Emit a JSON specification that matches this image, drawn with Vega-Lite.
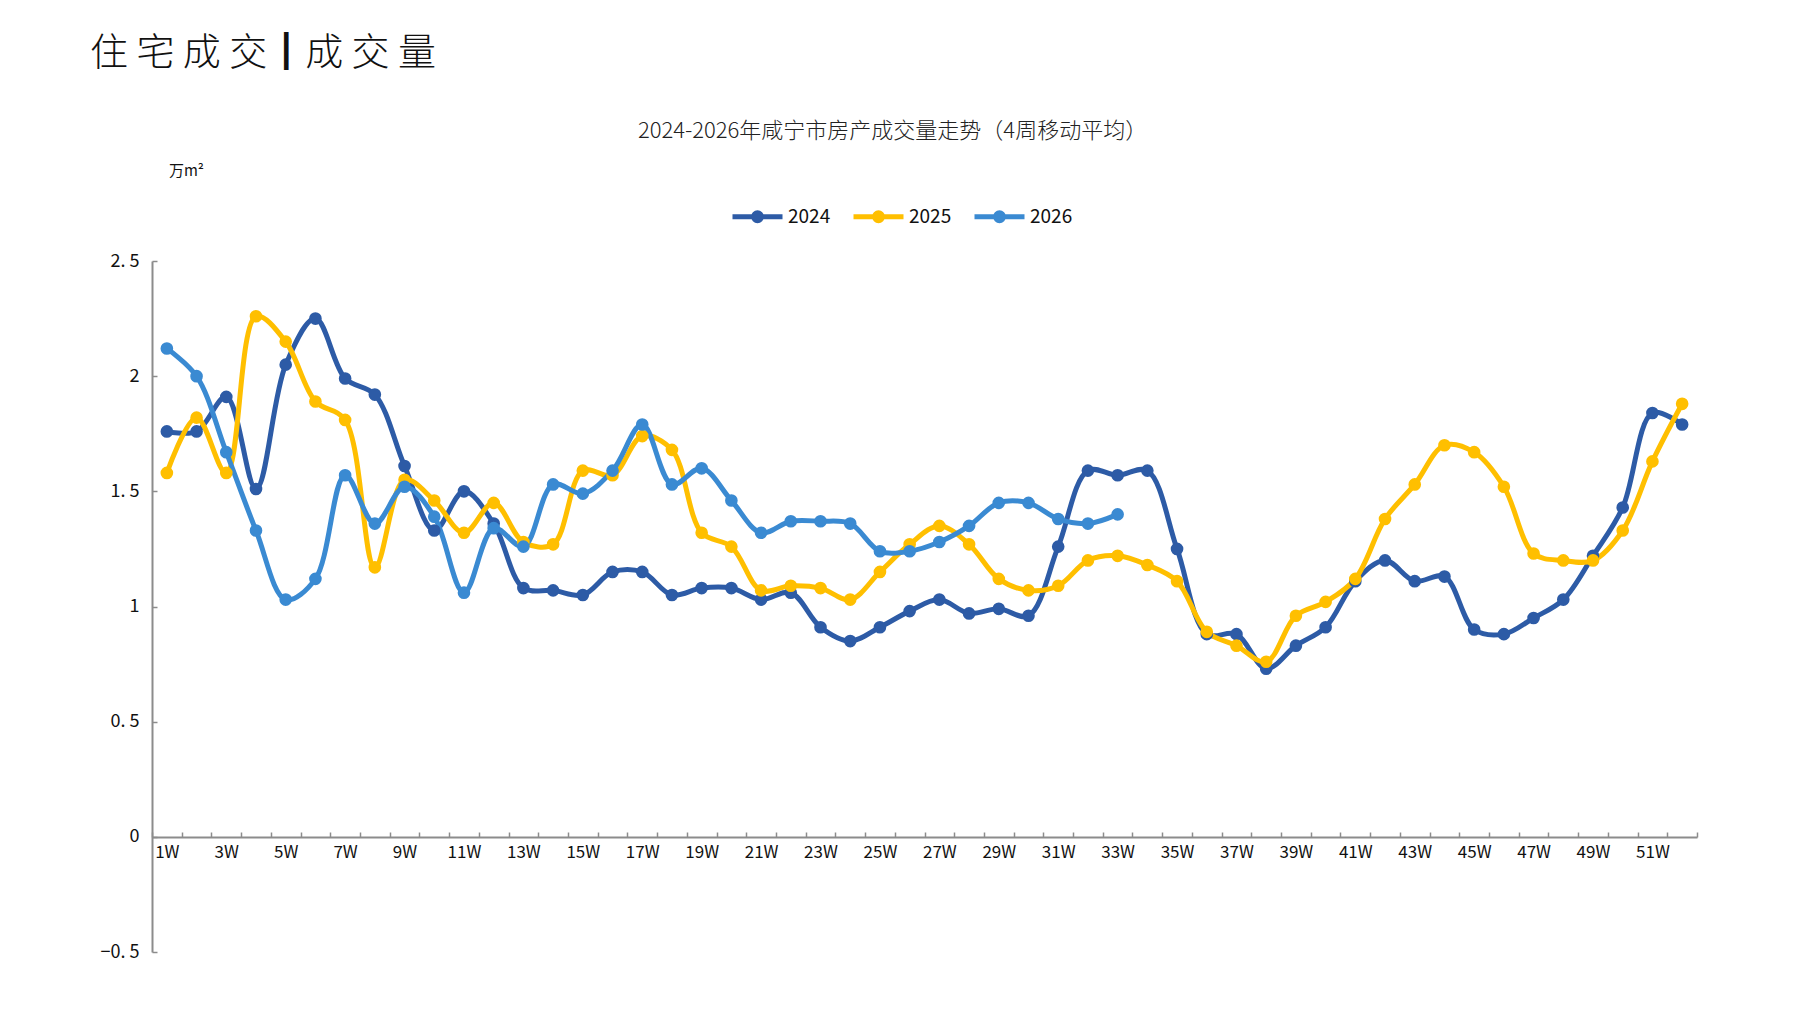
{
  "$schema": "https://vega.github.io/schema/vega-lite/v6.json",
  "autosize": {"type": "none"},
  "padding": {"left": 152, "top": 261, "right": 100, "bottom": 58},
  "width": 1545,
  "height": 691,
  "background": "white",
  "config": {
    "font": "Noto Sans CJK SC",
    "view": {"stroke": null},
    "title": {"font": "Noto Sans CJK SC"}
  },
  "title": {
    "text": "住 宅 成 交┃成 交 量",
    "anchor": "start",
    "frame": "group",
    "dx": -62,
    "offset": 46,
    "fontSize": 38,
    "fontWeight": 300,
    "color": "#111111"
  },
  "data": {
    "values": [
      {"week": "1W", "year": "2024", "value": 1.76}, {"week": "2W", "year": "2024", "value": 1.76},
      {"week": "3W", "year": "2024", "value": 1.91}, {"week": "4W", "year": "2024", "value": 1.51},
      {"week": "5W", "year": "2024", "value": 2.05}, {"week": "6W", "year": "2024", "value": 2.25},
      {"week": "7W", "year": "2024", "value": 1.99}, {"week": "8W", "year": "2024", "value": 1.92},
      {"week": "9W", "year": "2024", "value": 1.61}, {"week": "10W", "year": "2024", "value": 1.33},
      {"week": "11W", "year": "2024", "value": 1.50}, {"week": "12W", "year": "2024", "value": 1.36},
      {"week": "13W", "year": "2024", "value": 1.08}, {"week": "14W", "year": "2024", "value": 1.07},
      {"week": "15W", "year": "2024", "value": 1.05}, {"week": "16W", "year": "2024", "value": 1.15},
      {"week": "17W", "year": "2024", "value": 1.15}, {"week": "18W", "year": "2024", "value": 1.05},
      {"week": "19W", "year": "2024", "value": 1.08}, {"week": "20W", "year": "2024", "value": 1.08},
      {"week": "21W", "year": "2024", "value": 1.03}, {"week": "22W", "year": "2024", "value": 1.06},
      {"week": "23W", "year": "2024", "value": 0.91}, {"week": "24W", "year": "2024", "value": 0.85},
      {"week": "25W", "year": "2024", "value": 0.91}, {"week": "26W", "year": "2024", "value": 0.98},
      {"week": "27W", "year": "2024", "value": 1.03}, {"week": "28W", "year": "2024", "value": 0.97},
      {"week": "29W", "year": "2024", "value": 0.99}, {"week": "30W", "year": "2024", "value": 0.96},
      {"week": "31W", "year": "2024", "value": 1.26}, {"week": "32W", "year": "2024", "value": 1.59},
      {"week": "33W", "year": "2024", "value": 1.57}, {"week": "34W", "year": "2024", "value": 1.59},
      {"week": "35W", "year": "2024", "value": 1.25}, {"week": "36W", "year": "2024", "value": 0.88},
      {"week": "37W", "year": "2024", "value": 0.88}, {"week": "38W", "year": "2024", "value": 0.73},
      {"week": "39W", "year": "2024", "value": 0.83}, {"week": "40W", "year": "2024", "value": 0.91},
      {"week": "41W", "year": "2024", "value": 1.11}, {"week": "42W", "year": "2024", "value": 1.20},
      {"week": "43W", "year": "2024", "value": 1.11}, {"week": "44W", "year": "2024", "value": 1.13},
      {"week": "45W", "year": "2024", "value": 0.90}, {"week": "46W", "year": "2024", "value": 0.88},
      {"week": "47W", "year": "2024", "value": 0.95}, {"week": "48W", "year": "2024", "value": 1.03},
      {"week": "49W", "year": "2024", "value": 1.22}, {"week": "50W", "year": "2024", "value": 1.43},
      {"week": "51W", "year": "2024", "value": 1.84}, {"week": "52W", "year": "2024", "value": 1.79},

      {"week": "1W", "year": "2025", "value": 1.58}, {"week": "2W", "year": "2025", "value": 1.82},
      {"week": "3W", "year": "2025", "value": 1.58}, {"week": "4W", "year": "2025", "value": 2.26},
      {"week": "5W", "year": "2025", "value": 2.15}, {"week": "6W", "year": "2025", "value": 1.89},
      {"week": "7W", "year": "2025", "value": 1.81}, {"week": "8W", "year": "2025", "value": 1.17},
      {"week": "9W", "year": "2025", "value": 1.55}, {"week": "10W", "year": "2025", "value": 1.46},
      {"week": "11W", "year": "2025", "value": 1.32}, {"week": "12W", "year": "2025", "value": 1.45},
      {"week": "13W", "year": "2025", "value": 1.28}, {"week": "14W", "year": "2025", "value": 1.27},
      {"week": "15W", "year": "2025", "value": 1.59}, {"week": "16W", "year": "2025", "value": 1.57},
      {"week": "17W", "year": "2025", "value": 1.74}, {"week": "18W", "year": "2025", "value": 1.68},
      {"week": "19W", "year": "2025", "value": 1.32}, {"week": "20W", "year": "2025", "value": 1.26},
      {"week": "21W", "year": "2025", "value": 1.07}, {"week": "22W", "year": "2025", "value": 1.09},
      {"week": "23W", "year": "2025", "value": 1.08}, {"week": "24W", "year": "2025", "value": 1.03},
      {"week": "25W", "year": "2025", "value": 1.15}, {"week": "26W", "year": "2025", "value": 1.27},
      {"week": "27W", "year": "2025", "value": 1.35}, {"week": "28W", "year": "2025", "value": 1.27},
      {"week": "29W", "year": "2025", "value": 1.12}, {"week": "30W", "year": "2025", "value": 1.07},
      {"week": "31W", "year": "2025", "value": 1.09}, {"week": "32W", "year": "2025", "value": 1.20},
      {"week": "33W", "year": "2025", "value": 1.22}, {"week": "34W", "year": "2025", "value": 1.18},
      {"week": "35W", "year": "2025", "value": 1.11}, {"week": "36W", "year": "2025", "value": 0.89},
      {"week": "37W", "year": "2025", "value": 0.83}, {"week": "38W", "year": "2025", "value": 0.76},
      {"week": "39W", "year": "2025", "value": 0.96}, {"week": "40W", "year": "2025", "value": 1.02},
      {"week": "41W", "year": "2025", "value": 1.12}, {"week": "42W", "year": "2025", "value": 1.38},
      {"week": "43W", "year": "2025", "value": 1.53}, {"week": "44W", "year": "2025", "value": 1.70},
      {"week": "45W", "year": "2025", "value": 1.67}, {"week": "46W", "year": "2025", "value": 1.52},
      {"week": "47W", "year": "2025", "value": 1.23}, {"week": "48W", "year": "2025", "value": 1.20},
      {"week": "49W", "year": "2025", "value": 1.20}, {"week": "50W", "year": "2025", "value": 1.33},
      {"week": "51W", "year": "2025", "value": 1.63}, {"week": "52W", "year": "2025", "value": 1.88},

      {"week": "1W", "year": "2026", "value": 2.12}, {"week": "2W", "year": "2026", "value": 2.00},
      {"week": "3W", "year": "2026", "value": 1.67}, {"week": "4W", "year": "2026", "value": 1.33},
      {"week": "5W", "year": "2026", "value": 1.03}, {"week": "6W", "year": "2026", "value": 1.12},
      {"week": "7W", "year": "2026", "value": 1.57}, {"week": "8W", "year": "2026", "value": 1.36},
      {"week": "9W", "year": "2026", "value": 1.52}, {"week": "10W", "year": "2026", "value": 1.39},
      {"week": "11W", "year": "2026", "value": 1.06}, {"week": "12W", "year": "2026", "value": 1.34},
      {"week": "13W", "year": "2026", "value": 1.26}, {"week": "14W", "year": "2026", "value": 1.53},
      {"week": "15W", "year": "2026", "value": 1.49}, {"week": "16W", "year": "2026", "value": 1.59},
      {"week": "17W", "year": "2026", "value": 1.79}, {"week": "18W", "year": "2026", "value": 1.53},
      {"week": "19W", "year": "2026", "value": 1.60}, {"week": "20W", "year": "2026", "value": 1.46},
      {"week": "21W", "year": "2026", "value": 1.32}, {"week": "22W", "year": "2026", "value": 1.37},
      {"week": "23W", "year": "2026", "value": 1.37}, {"week": "24W", "year": "2026", "value": 1.36},
      {"week": "25W", "year": "2026", "value": 1.24}, {"week": "26W", "year": "2026", "value": 1.24},
      {"week": "27W", "year": "2026", "value": 1.28}, {"week": "28W", "year": "2026", "value": 1.35},
      {"week": "29W", "year": "2026", "value": 1.45}, {"week": "30W", "year": "2026", "value": 1.45},
      {"week": "31W", "year": "2026", "value": 1.38}, {"week": "32W", "year": "2026", "value": 1.36},
      {"week": "33W", "year": "2026", "value": 1.40}
    ]
  },
  "encoding": {
    "x": {
      "field": "week",
      "type": "ordinal",
      "sort": null,
      "scale": {"type": "band", "paddingInner": 0, "paddingOuter": 0},
      "axis": {
        "orient": "bottom",
        "offset": -115,
        "tickBand": "extent",
        "tickSize": -5,
        "tickColor": "#8c8c8c",
        "tickWidth": 1.5,
        "domainColor": "#8c8c8c",
        "domainWidth": 2,
        "labelAngle": 0,
        "labelFontSize": 17,
        "labelColor": "#111111",
        "labelPadding": 12,
        "labelOverlap": false,
        "labelExpr": "parseInt(datum.label) % 2 == 1 ? datum.label : ''",
        "title": "2024-2026年咸宁市房产成交量走势（4周移动平均）",
        "titleFontSize": 22,
        "titleFontWeight": 300,
        "titleColor": "#222222",
        "titleX": 740,
        "titleY": -707,
        "titleAlign": "center",
        "titleBaseline": "middle"
      }
    },
    "y": {
      "field": "value",
      "type": "quantitative",
      "scale": {"domain": [-0.5, 2.5], "nice": false, "zero": false},
      "axis": {
        "values": [-0.5, 0, 0.5, 1, 1.5, 2, 2.5],
        "grid": false,
        "tickSize": -5,
        "tickColor": "#8c8c8c",
        "tickWidth": 1.5,
        "domainColor": "#8c8c8c",
        "domainWidth": 2,
        "labelFontSize": 18,
        "labelColor": "#111111",
        "labelPadding": 18,
        "labelExpr": "replace(format(datum.value, '~g'), '.', '. ')",
        "title": "万m²",
        "titleAngle": 0,
        "titleFontSize": 15,
        "titleFontWeight": "normal",
        "titleColor": "#111111",
        "titleX": 34,
        "titleY": -91,
        "titleAlign": "center",
        "titleBaseline": "middle"
      }
    },
    "color": {
      "field": "year",
      "type": "nominal",
      "scale": {"domain": ["2024", "2025", "2026"], "range": ["#2D5BA6", "#FFBF00", "#3A8AD2"]},
      "legend": {
        "orient": "none",
        "legendX": 578,
        "legendY": -72,
        "direction": "horizontal",
        "title": null,
        "symbolType": "M-1,0H1M0.16,0A0.16,0.16,0,1,1,-0.16,0A0.16,0.16,0,1,1,0.16,0Z",
        "symbolSize": 2500,
        "symbolStrokeWidth": 5,
        "labelFontSize": 19,
        "labelColor": "#111111",
        "labelOffset": 3,
        "columnPadding": 12,
        "encode": {
          "symbols": {"update": {"fill": {"scale": "color", "field": "value"}, "stroke": {"scale": "color", "field": "value"}, "fillOpacity": {"value": 1}}}
        }
      }
    }
  },
  "layer": [
    {"mark": {"type": "line", "interpolate": "catmull-rom", "strokeWidth": 5, "strokeCap": "round"}},
    {"mark": {"type": "point", "filled": true, "size": 160, "opacity": 1}}
  ]
}
